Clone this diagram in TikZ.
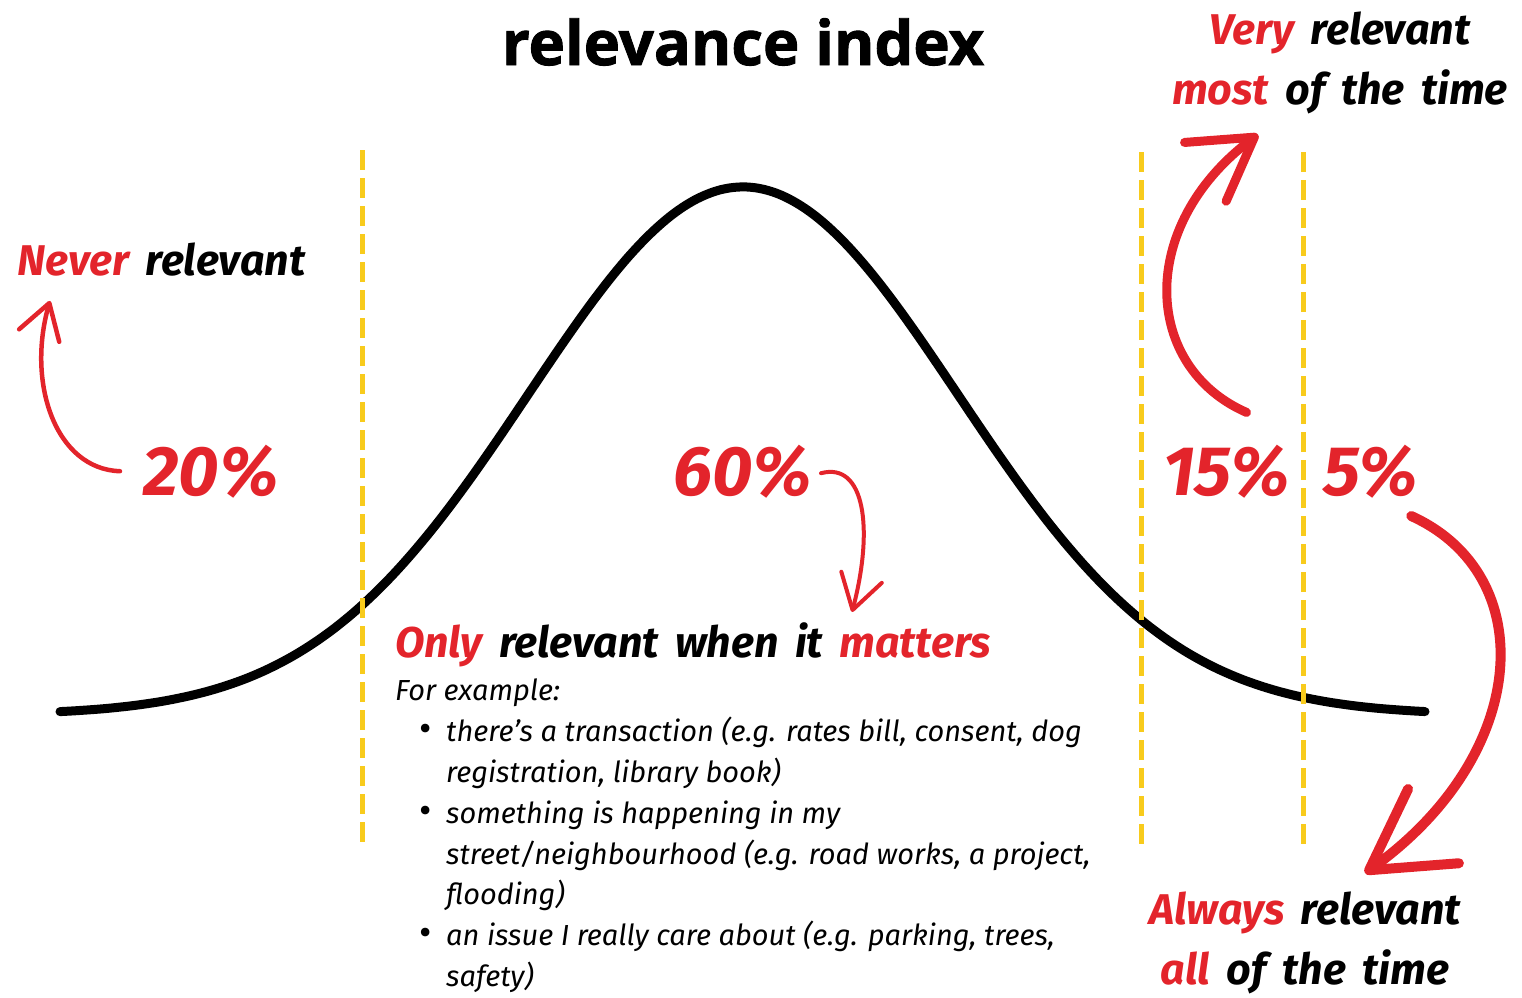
\documentclass[tikz,border=0pt]{standalone}
\usepackage{fontspec}
\usetikzlibrary{arrows.meta,bending,positioning,calc}
\setmainfont{Fira Sans}
\newfontfamily\handfont{Fira Sans}
\newfontfamily\notefont{Fira Sans}
\newfontfamily\headfont{Open Sans}[BoldFeatures={FakeBold=1.5}]
\definecolor{relred}{HTML}{E3242B}
\definecolor{relgold}{HTML}{F8CB1C}
\definecolor{relink}{HTML}{000000}
\newcommand{\widespace}{\spaceskip=0.38em\relax}
\tikzset{
  hand/.style={font={\handfont\bfseries\itshape\fontsize{43}{60}\selectfont\widespace}, inner sep=0pt},
  pct/.style={font=\handfont\bfseries\itshape\fontsize{70}{80}\selectfont, text=relred, inner sep=0pt},
  note/.style={font=\notefont\itshape\fontsize{29}{40.8}\selectfont, align=left, inner sep=0pt},
  cut/.style={draw=relgold, line width=5pt, dash pattern=on 20pt off 8pt},
  bell/.style={draw=relink, line width=9pt},
  thin/.style={draw=relred, line width=4.5pt, line cap=round, -{Straight Barb[length=34pt,width=42pt,round]}},
  fat/.style={draw=relred, line width=10pt, line cap=round, -{Straight Barb[length=60pt,width=72pt,round]}},
}
\newcommand{\redword}[1]{\textcolor{relred}{#1}}
\newcommand{\itm}{\makebox[51pt][l]{\hspace{24pt}{\upshape\fontsize{38}{0}\selectfont\textbullet}}}
\newcommand{\cnt}{\hspace*{51pt}}

\begin{document}
\begin{tikzpicture}[x=1pt,y=-1pt]
  \useasboundingbox (0,0) rectangle (1522,997);
  % normal curve, peak at 743, sigma 215
  \draw[bell, line cap=round] plot[domain=60:1425, samples=160, smooth]
    (\x, {715-528*exp(-0.5*((\x-743)/215)*((\x-743)/215))});
  % cut-offs between the groups
  \foreach \cx/\ya/\yb in {362/150/845, 1141/152/848, 1303/152/848}
    \draw[cut] (\cx,\ya) -- (\cx,\yb);

  \node[anchor=base, font=\headfont\bfseries\fontsize{61.5}{62}\selectfont, inner sep=0pt] (title) at (743,65) {relevance index};

  \node[hand, anchor=base west] (never) at (17,275) {\redword{Never} relevant};
  \node[pct, anchor=base west] (p20) at (143,495) {20\%};
  \node[pct, anchor=base west] (p60) at (673,495) {60\%};
  \node[pct, anchor=base west] (p15) at (1163,495) {15\%};
  \node[pct, anchor=base west] (p5) at (1323,495) {5\%};
  \node[hand, align=center, anchor=north] (very) at (1340,12) {\redword{Very} relevant\\\redword{most} of the time};
  \node[hand, align=center, anchor=north] (always) at (1305,892) {\redword{Always} relevant\\\redword{all} of the time};
  \node[hand, anchor=base west] (only) at (395,657) {\redword{Only} relevant when it \redword{matters}};
  \node[note, anchor=north west] (examples) at (395,679) {For example:\\
    \itm there’s a transaction (e.g. rates bill, consent, dog\\
    \cnt registration, library book)\\
    \itm something is happening in my\\
    \cnt street/neighbourhood (e.g. road works, a project,\\
    \cnt flooding)\\
    \itm an issue I really care about (e.g. parking, trees,\\
    \cnt safety)};

  % hand drawn pointers
  \draw[thin] ($(p20.west)+(-23,0)$) .. controls +(-65,-2) and +(-25,80) .. ($(never.south west)+(33,25)$);
  \draw[thin, line width=4pt] ($(p60.east)+(9,2)$) .. controls +(45,-12) and +(22,-80) .. ($(only.north west)+(457,-10)$);
  \draw[fat, line width=9pt] ($(p15.north)+(20,-32)$) .. controls +(-105,-46) and +(-123,87) .. ($(very.south)+(-82,20)$);
  \draw[fat, -{Straight Barb[length=78pt,width=90pt,round]}] ($(p5.south east)+(-7,18)$) .. controls +(132,60) and +(165,-113) .. ($(always.north)+(60,-19)$);
\end{tikzpicture}
\end{document}
